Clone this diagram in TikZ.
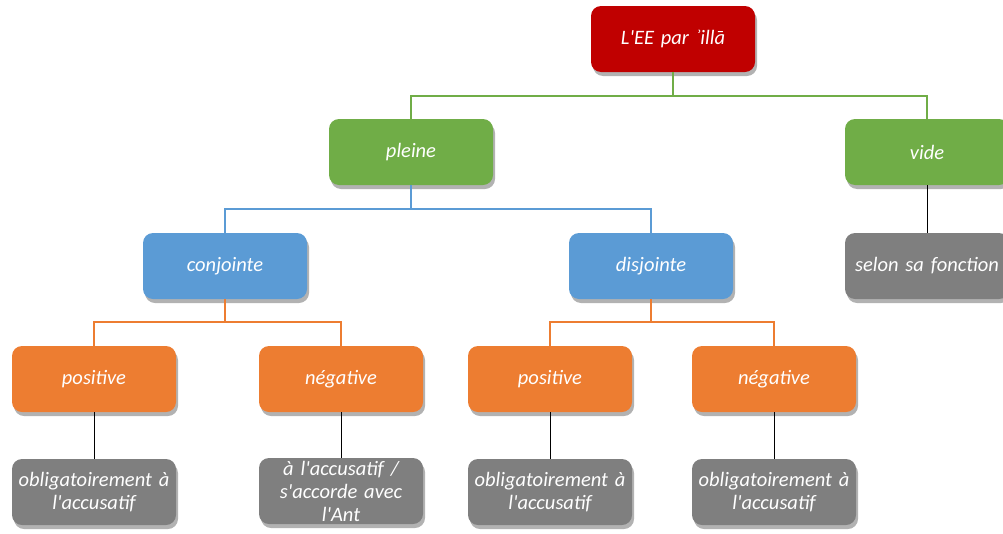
\documentclass[tikz,border=0pt]{standalone}
\usepackage{fontspec}
\setmainfont{Carlito}[Ligatures=TeXOff]
\usetikzlibrary{shadows}
\definecolor{cred}{HTML}{C00000}
\definecolor{cgreen}{HTML}{70AD47}
\definecolor{cblue}{HTML}{5B9BD5}
\definecolor{corange}{HTML}{ED7D31}
\definecolor{cgray}{HTML}{7F7F7F}
\begin{document}
\begin{tikzpicture}[x=1pt,y=-1pt,
  box/.style={rounded corners=10pt, minimum width=164pt, minimum height=66pt,
    text width=162pt, align=center, inner sep=1pt, text=white,
    font=\fontsize{20.5}{23}\selectfont\itshape,
    drop shadow={shadow xshift=2pt, shadow yshift=-4pt, opacity=0.3, fill=black}},
  redbox/.style={box, fill=cred},
  greenbox/.style={box, fill=cgreen},
  bluebox/.style={box, fill=cblue},
  orangebox/.style={box, fill=corange},
  graybox/.style={box, fill=cgray},
  gline/.style={draw=cgreen, line width=2.4pt},
  bline/.style={draw=cblue, line width=2.4pt},
  oline/.style={draw=corange, line width=2.4pt},
  kline/.style={draw=black, line width=0.9pt}]
\useasboundingbox (0,0) rectangle (1003,533);
\node[redbox] (root) at (673,39) {L'EE par ʾillā};
\node[greenbox] (pleine) at (411,152) {pleine};
\node[greenbox] (vide) at (927,152) {vide};
\node[graybox] (selon) at (927,266) {selon sa fonction};
\node[bluebox] (conj) at (225,266) {conjointe};
\node[bluebox] (disj) at (651,266) {disjointe};
\node[orangebox] (pos1) at (94,379) {positive};
\node[orangebox] (neg1) at (341,379) {négative};
\node[orangebox] (pos2) at (550,379) {positive};
\node[orangebox] (neg2) at (774,379) {négative};
\node[graybox] (l1) at (94,492) {obligatoirement à\\l'accusatif};
\node[graybox] (l2) at (341,491) {à l'accusatif /\\s'accorde avec\\l'Ant};
\node[graybox] (l3) at (550,492) {obligatoirement à\\l'accusatif};
\node[graybox] (l4) at (774,492) {obligatoirement à\\l'accusatif};
\path[gline] (root.south) -- ++(0,24) -| (pleine.north);
\path[gline] (root.south) -- ++(0,24) -| (vide.north);
\path[bline] (pleine.south) -- ++(0,24) -| (conj.north);
\path[bline] (pleine.south) -- ++(0,24) -| (disj.north);
\path[oline] (conj.south) -- ++(0,23) -| (pos1.north);
\path[oline] (conj.south) -- ++(0,23) -| (neg1.north);
\path[oline] (disj.south) -- ++(0,23) -| (pos2.north);
\path[oline] (disj.south) -- ++(0,23) -| (neg2.north);
\path[kline] (vide) -- (selon);
\path[kline] (pos1) -- (l1);
\path[kline] (neg1) -- (l2);
\path[kline] (pos2) -- (l3);
\path[kline] (neg2) -- (l4);
\end{tikzpicture}
\end{document}
